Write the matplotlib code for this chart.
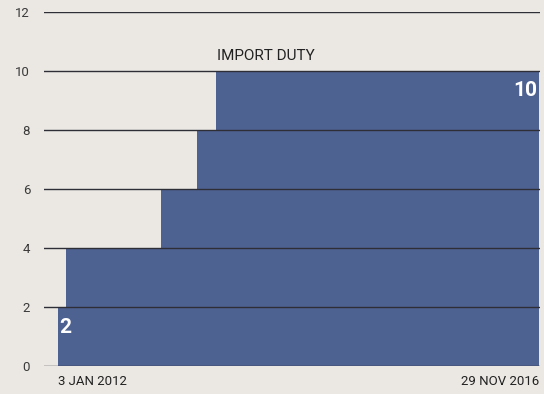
import matplotlib.pyplot as plt
import matplotlib.dates as mdates
import numpy as np
import datetime as dt

plt.rcParams['font.family'] = ['Roboto', 'DejaVu Sans']

# import duty (%) steps, each value holds from its date on
change_dates = ["2012-01-03", "2012-02-03", "2013-01-21", "2013-06-05", "2013-08-13", "2016-11-29"]
duty = [2, 4, 6, 8, 10, 10]
y_ticks = [0, 2, 4, 6, 8, 10, 12]
start_label = "3 JAN 2012"
end_label = "29 NOV 2016"
title = "IMPORT DUTY"

dates = [dt.datetime.strptime(d, "%Y-%m-%d") for d in change_dates]
x = mdates.date2num(dates)

paper = "#ebe8e3"
fill_col = "#4e6292"

fig = plt.figure(figsize=(5.44, 3.94), dpi=100, facecolor=paper)
ax = fig.add_axes([0.081, 0.071, 0.912, 0.899])
ax.set_facecolor(paper)

ax.fill_between(x, duty, step="post", color=fill_col, lw=0, zorder=1)

ax.set_ylim(0, 12)
ax.set_xlim(x[0] - 52, x[-1] + 4)
ax.set_yticks(y_ticks)
ax.yaxis.grid(True, color="#2e2e36", lw=1.0, zorder=2)
ax.set_axisbelow(False)
ax.set_xticks([])
for s in ax.spines.values():
    s.set_visible(False)
ax.tick_params(axis="y", length=0, pad=10, labelsize=9.5, labelcolor="#3a3a3a")

ax.text(x[0] + 5, 1.3, str(duty[0]), color="white", fontsize=15, fontweight="bold",
        ha="left", va="center", zorder=3)
ax.text(x[-1] - 6, 9.35, str(duty[-1]), color="white", fontsize=15, fontweight="bold",
        ha="right", va="center", zorder=3)
ax.text(x[4] + 6, 10.25, title, color="#222222", fontsize=11, ha="left", va="bottom")

ax.text(x[0], -0.3, start_label, fontsize=9.5, color="#222222", ha="left", va="top")
ax.text(x[-1], -0.3, end_label, fontsize=9.5, color="#222222", ha="right", va="top")

fig.savefig("out.png", dpi=100, facecolor=paper)
